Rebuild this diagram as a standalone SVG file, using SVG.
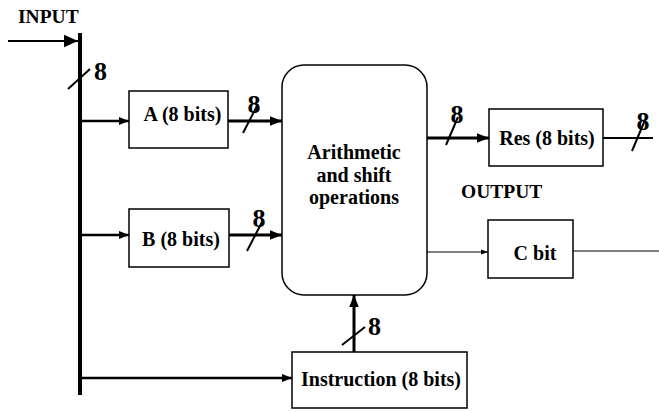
<svg xmlns="http://www.w3.org/2000/svg" width="659" height="411" viewBox="0 0 659 411">
<style>
text{font-family:"Liberation Serif","Times New Roman",serif;font-weight:bold;fill:#000}
.box{fill:#fff;stroke:#000;stroke-width:1.5}
.lbl{font-size:20px;text-anchor:middle}
.n{font-size:26px}
.thick{stroke:#000;stroke-width:3;fill:none}
.med{stroke:#000;stroke-width:2.5;fill:none}
.thin{stroke:#000;stroke-width:1;fill:none}
.sl{stroke:#000;stroke-width:2;fill:none}
</style>
<defs>
<marker id="ah" viewBox="0 0 10 10" refX="10" refY="5" markerWidth="4" markerHeight="4" orient="auto" markerUnits="strokeWidth"><path d="M0,1 L10,5 L0,9 z" fill="#000"/></marker>
<marker id="ahs" viewBox="0 0 10 10" refX="10" refY="5" markerWidth="7" markerHeight="7" orient="auto" markerUnits="strokeWidth"><path d="M0,1.5 L10,5 L0,8.5 z" fill="#000"/></marker>
<marker id="ahb" viewBox="0 0 10 10" refX="10" refY="5" markerWidth="10" markerHeight="7" orient="auto" markerUnits="strokeWidth"><path d="M0,0.5 L10,5 L0,9.5 z" fill="#000"/></marker>
</defs>
<g id="connectors">
<line x1="80" y1="33" x2="80" y2="395" stroke="#000" stroke-width="4"/>
<line x1="8" y1="41" x2="78" y2="41" stroke="#000" stroke-width="2" marker-end="url(#ahb)"/>
<line x1="68" y1="89" x2="90" y2="69" class="sl"/>
<text x="94" y="80" class="n">8</text>
<line x1="80" y1="121" x2="129" y2="121" class="med" marker-end="url(#ah)"/>
<line x1="80" y1="235" x2="129" y2="235" class="med" marker-end="url(#ah)"/>
<line x1="80" y1="378" x2="292" y2="378" class="med" marker-end="url(#ah)"/>
<line x1="228" y1="121" x2="282" y2="121" class="thick" marker-end="url(#ah)"/>
<line x1="243" y1="133" x2="258" y2="104" class="sl"/>
<text x="254" y="113" class="n" text-anchor="middle">8</text>
<line x1="229" y1="235" x2="282" y2="235" class="thick" marker-end="url(#ah)"/>
<line x1="247" y1="251" x2="262" y2="222" class="sl"/>
<text x="259" y="227" class="n" text-anchor="middle">8</text>
<line x1="427" y1="138" x2="489" y2="138" class="thick" marker-end="url(#ah)"/>
<line x1="446" y1="145" x2="458" y2="117" class="sl"/>
<text x="457" y="123" class="n" text-anchor="middle">8</text>
<line x1="603" y1="138" x2="653" y2="138" stroke="#000" stroke-width="2"/>
<line x1="632" y1="151" x2="645" y2="120" class="sl"/>
<text x="643" y="130" class="n" text-anchor="middle">8</text>
<line x1="427" y1="252" x2="488" y2="252" class="thin" marker-end="url(#ahs)"/>
<line x1="573" y1="251" x2="659" y2="251" class="thin"/>
<line x1="354" y1="352" x2="354" y2="295" class="thick" marker-end="url(#ah)"/>
<line x1="342" y1="345" x2="365" y2="327" class="sl"/>
<text x="368" y="335" class="n">8</text>
</g>
<g id="input"><text x="18" y="23" style="font-size:19.5px">INPUT</text></g>
<g id="a"><rect x="129" y="91" width="99" height="57" class="box"/><text x="182.5" y="121" class="lbl">A (8 bits)</text></g>
<g id="b"><rect x="129" y="209" width="100" height="58" class="box"/><text x="181" y="246" class="lbl">B (8 bits)</text></g>
<g id="alu"><rect x="282" y="65" width="145" height="230" rx="22" class="box"/>
<text x="354" y="159" class="lbl">Arithmetic</text><text x="354" y="182" class="lbl">and shift</text><text x="354" y="204" class="lbl">operations</text></g>
<g id="res"><rect x="489" y="109" width="114" height="57" class="box"/><text x="547" y="145" class="lbl">Res (8 bits)</text></g>
<g id="output"><text x="461" y="198" style="font-size:19.5px">OUTPUT</text></g>
<g id="cbit"><rect x="488" y="220" width="85" height="58" class="box"/><text x="535" y="260" class="lbl">C bit</text></g>
<g id="instr"><rect x="292" y="352" width="175" height="56" class="box"/><text x="381" y="386" class="lbl">Instruction (8 bits)</text></g>
</svg>
